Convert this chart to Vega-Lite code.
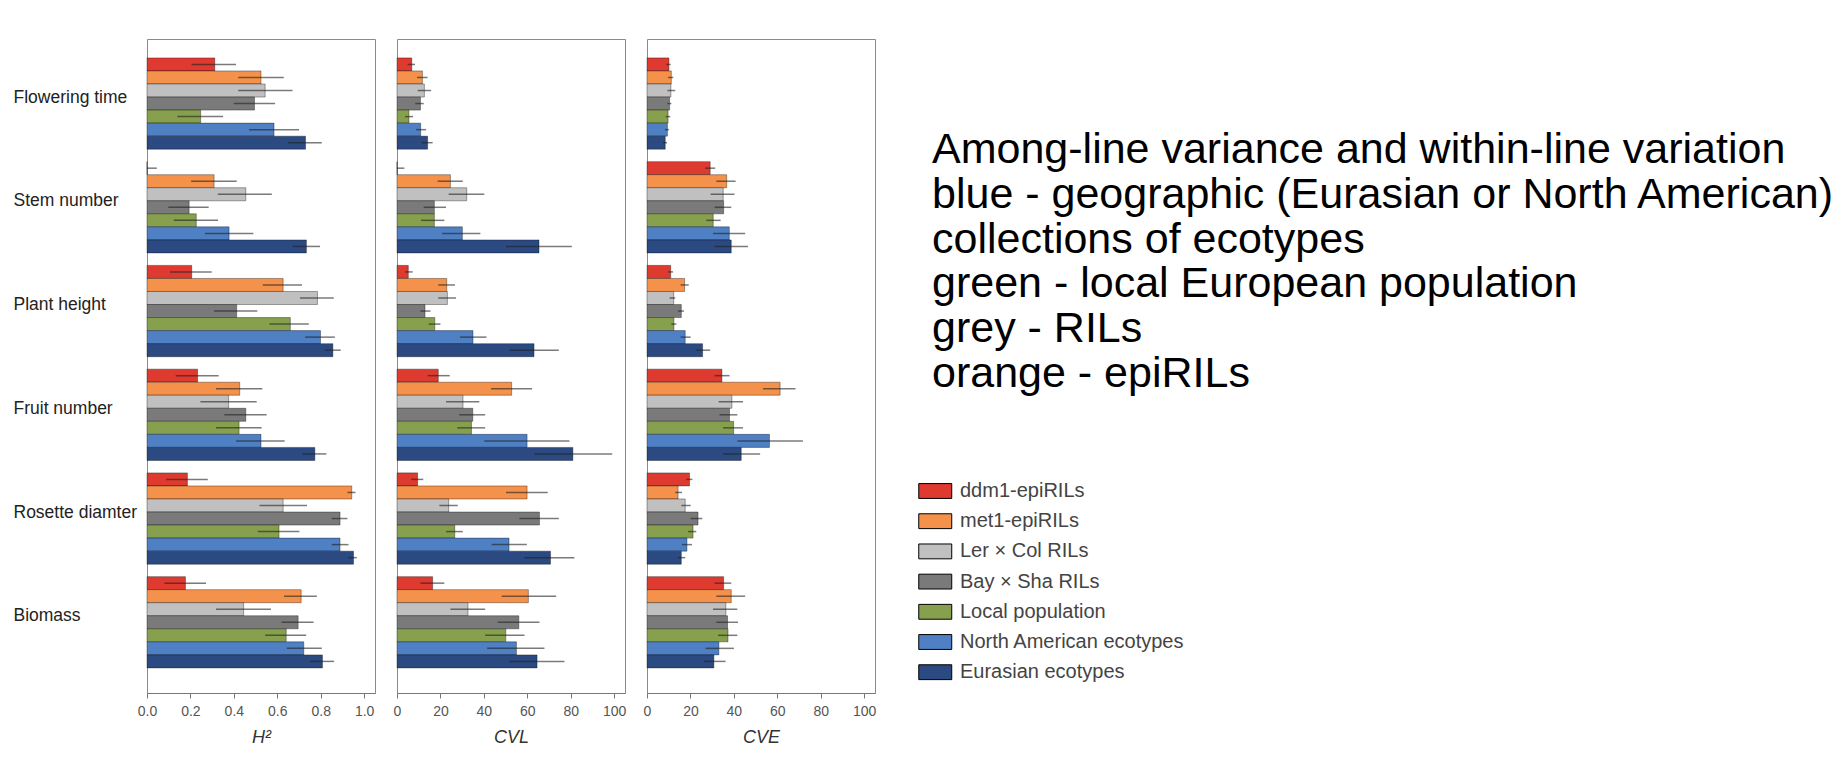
{
  "$schema": "https://vega.github.io/schema/vega-lite/v6.json",
  "padding": {"left": 12, "top": 38, "right": 2, "bottom": 2},
  "background": "white",
  "bounds": "flush",
  "spacing": 22,
  "datasets": {
    "d": [
      {"t":"Flowering time","g":"ddm1-epiRILs","m":"H2","v":0.312,"lo":0.205,"hi":0.41},
      {"t":"Flowering time","g":"met1-epiRILs","m":"H2","v":0.525,"lo":0.42,"hi":0.63},
      {"t":"Flowering time","g":"Ler × Col RILs","m":"H2","v":0.544,"lo":0.42,"hi":0.67},
      {"t":"Flowering time","g":"Bay × Sha RILs","m":"H2","v":0.495,"lo":0.4,"hi":0.59},
      {"t":"Flowering time","g":"Local population","m":"H2","v":0.247,"lo":0.14,"hi":0.35},
      {"t":"Flowering time","g":"North American ecotypes","m":"H2","v":0.585,"lo":0.47,"hi":0.7},
      {"t":"Flowering time","g":"Eurasian ecotypes","m":"H2","v":0.73,"lo":0.65,"hi":0.805},
      {"t":"Stem number","g":"ddm1-epiRILs","m":"H2","v":0,"lo":0,"hi":0.045},
      {"t":"Stem number","g":"met1-epiRILs","m":"H2","v":0.309,"lo":0.203,"hi":0.413},
      {"t":"Stem number","g":"Ler × Col RILs","m":"H2","v":0.455,"lo":0.326,"hi":0.575},
      {"t":"Stem number","g":"Bay × Sha RILs","m":"H2","v":0.194,"lo":0.098,"hi":0.284},
      {"t":"Stem number","g":"Local population","m":"H2","v":0.227,"lo":0.124,"hi":0.327},
      {"t":"Stem number","g":"North American ecotypes","m":"H2","v":0.378,"lo":0.267,"hi":0.49},
      {"t":"Stem number","g":"Eurasian ecotypes","m":"H2","v":0.734,"lo":0.671,"hi":0.797},
      {"t":"Plant height","g":"ddm1-epiRILs","m":"H2","v":0.206,"lo":0.106,"hi":0.298},
      {"t":"Plant height","g":"met1-epiRILs","m":"H2","v":0.627,"lo":0.533,"hi":0.714},
      {"t":"Plant height","g":"Ler × Col RILs","m":"H2","v":0.785,"lo":0.705,"hi":0.86},
      {"t":"Plant height","g":"Bay × Sha RILs","m":"H2","v":0.413,"lo":0.309,"hi":0.508},
      {"t":"Plant height","g":"Local population","m":"H2","v":0.66,"lo":0.564,"hi":0.745},
      {"t":"Plant height","g":"North American ecotypes","m":"H2","v":0.799,"lo":0.728,"hi":0.865},
      {"t":"Plant height","g":"Eurasian ecotypes","m":"H2","v":0.856,"lo":0.82,"hi":0.892},
      {"t":"Fruit number","g":"ddm1-epiRILs","m":"H2","v":0.233,"lo":0.132,"hi":0.33},
      {"t":"Fruit number","g":"met1-epiRILs","m":"H2","v":0.427,"lo":0.318,"hi":0.531},
      {"t":"Fruit number","g":"Ler × Col RILs","m":"H2","v":0.376,"lo":0.246,"hi":0.505},
      {"t":"Fruit number","g":"Bay × Sha RILs","m":"H2","v":0.455,"lo":0.356,"hi":0.551},
      {"t":"Fruit number","g":"Local population","m":"H2","v":0.424,"lo":0.318,"hi":0.528},
      {"t":"Fruit number","g":"North American ecotypes","m":"H2","v":0.525,"lo":0.41,"hi":0.634},
      {"t":"Fruit number","g":"Eurasian ecotypes","m":"H2","v":0.773,"lo":0.716,"hi":0.826},
      {"t":"Rosette diamter","g":"ddm1-epiRILs","m":"H2","v":0.186,"lo":0.088,"hi":0.28},
      {"t":"Rosette diamter","g":"met1-epiRILs","m":"H2","v":0.943,"lo":0.923,"hi":0.96},
      {"t":"Rosette diamter","g":"Ler × Col RILs","m":"H2","v":0.627,"lo":0.518,"hi":0.737},
      {"t":"Rosette diamter","g":"Bay × Sha RILs","m":"H2","v":0.889,"lo":0.851,"hi":0.923},
      {"t":"Rosette diamter","g":"Local population","m":"H2","v":0.608,"lo":0.51,"hi":0.702},
      {"t":"Rosette diamter","g":"North American ecotypes","m":"H2","v":0.889,"lo":0.851,"hi":0.928},
      {"t":"Rosette diamter","g":"Eurasian ecotypes","m":"H2","v":0.951,"lo":0.928,"hi":0.966},
      {"t":"Biomass","g":"ddm1-epiRILs","m":"H2","v":0.177,"lo":0.08,"hi":0.272},
      {"t":"Biomass","g":"met1-epiRILs","m":"H2","v":0.71,"lo":0.631,"hi":0.782},
      {"t":"Biomass","g":"Ler × Col RILs","m":"H2","v":0.445,"lo":0.318,"hi":0.571},
      {"t":"Biomass","g":"Bay × Sha RILs","m":"H2","v":0.696,"lo":0.62,"hi":0.767},
      {"t":"Biomass","g":"Local population","m":"H2","v":0.641,"lo":0.544,"hi":0.733},
      {"t":"Biomass","g":"North American ecotypes","m":"H2","v":0.722,"lo":0.644,"hi":0.805},
      {"t":"Biomass","g":"Eurasian ecotypes","m":"H2","v":0.808,"lo":0.751,"hi":0.862},

      {"t":"Flowering time","g":"ddm1-epiRILs","m":"CVL","v":6.8,"lo":4.9,"hi":8.3},
      {"t":"Flowering time","g":"met1-epiRILs","m":"CVL","v":11.7,"lo":9.2,"hi":14.1},
      {"t":"Flowering time","g":"Ler × Col RILs","m":"CVL","v":12.6,"lo":9.5,"hi":15.7},
      {"t":"Flowering time","g":"Bay × Sha RILs","m":"CVL","v":10.8,"lo":8.4,"hi":12.3},
      {"t":"Flowering time","g":"Local population","m":"CVL","v":5.5,"lo":3.7,"hi":7.4},
      {"t":"Flowering time","g":"North American ecotypes","m":"CVL","v":10.9,"lo":8.8,"hi":13.4},
      {"t":"Flowering time","g":"Eurasian ecotypes","m":"CVL","v":14.1,"lo":11.4,"hi":16.4},
      {"t":"Stem number","g":"ddm1-epiRILs","m":"CVL","v":0,"lo":0,"hi":3.4},
      {"t":"Stem number","g":"met1-epiRILs","m":"CVL","v":24.6,"lo":18.7,"hi":30.3},
      {"t":"Stem number","g":"Ler × Col RILs","m":"CVL","v":32.1,"lo":23.8,"hi":40.2},
      {"t":"Stem number","g":"Bay × Sha RILs","m":"CVL","v":17.2,"lo":12.3,"hi":22.6},
      {"t":"Stem number","g":"Local population","m":"CVL","v":17.2,"lo":11.1,"hi":21.8},
      {"t":"Stem number","g":"North American ecotypes","m":"CVL","v":30.1,"lo":20.7,"hi":38.4},
      {"t":"Stem number","g":"Eurasian ecotypes","m":"CVL","v":65.4,"lo":50.2,"hi":80.5},
      {"t":"Plant height","g":"ddm1-epiRILs","m":"CVL","v":5.2,"lo":3.7,"hi":7.2},
      {"t":"Plant height","g":"met1-epiRILs","m":"CVL","v":22.9,"lo":19,"hi":26.7},
      {"t":"Plant height","g":"Ler × Col RILs","m":"CVL","v":23.2,"lo":19,"hi":27.2},
      {"t":"Plant height","g":"Bay × Sha RILs","m":"CVL","v":12.9,"lo":10.8,"hi":15.4},
      {"t":"Plant height","g":"Local population","m":"CVL","v":17.4,"lo":14.6,"hi":20},
      {"t":"Plant height","g":"North American ecotypes","m":"CVL","v":35,"lo":29,"hi":41.2},
      {"t":"Plant height","g":"Eurasian ecotypes","m":"CVL","v":63.1,"lo":51.8,"hi":74.5},
      {"t":"Fruit number","g":"ddm1-epiRILs","m":"CVL","v":19,"lo":14.1,"hi":24.3},
      {"t":"Fruit number","g":"met1-epiRILs","m":"CVL","v":52.8,"lo":43.3,"hi":62.2},
      {"t":"Fruit number","g":"Ler × Col RILs","m":"CVL","v":30.4,"lo":22.6,"hi":37.9},
      {"t":"Fruit number","g":"Bay × Sha RILs","m":"CVL","v":34.9,"lo":28.7,"hi":40.6},
      {"t":"Fruit number","g":"Local population","m":"CVL","v":34.3,"lo":27.8,"hi":40.6},
      {"t":"Fruit number","g":"North American ecotypes","m":"CVL","v":59.9,"lo":40.2,"hi":79.4},
      {"t":"Fruit number","g":"Eurasian ecotypes","m":"CVL","v":81,"lo":63.3,"hi":99.1},
      {"t":"Rosette diamter","g":"ddm1-epiRILs","m":"CVL","v":9.5,"lo":6.5,"hi":12.1},
      {"t":"Rosette diamter","g":"met1-epiRILs","m":"CVL","v":59.9,"lo":50.2,"hi":69.4},
      {"t":"Rosette diamter","g":"Ler × Col RILs","m":"CVL","v":23.8,"lo":19.5,"hi":28},
      {"t":"Rosette diamter","g":"Bay × Sha RILs","m":"CVL","v":65.6,"lo":56.4,"hi":74.5},
      {"t":"Rosette diamter","g":"Local population","m":"CVL","v":26.6,"lo":22.6,"hi":30.3},
      {"t":"Rosette diamter","g":"North American ecotypes","m":"CVL","v":51.6,"lo":43.6,"hi":59.8},
      {"t":"Rosette diamter","g":"Eurasian ecotypes","m":"CVL","v":70.7,"lo":58.7,"hi":81.7},
      {"t":"Biomass","g":"ddm1-epiRILs","m":"CVL","v":16.4,"lo":10.8,"hi":21.8},
      {"t":"Biomass","g":"met1-epiRILs","m":"CVL","v":60.5,"lo":48.2,"hi":73.3},
      {"t":"Biomass","g":"Ler × Col RILs","m":"CVL","v":32.7,"lo":24.6,"hi":40.6},
      {"t":"Biomass","g":"Bay × Sha RILs","m":"CVL","v":56.1,"lo":46.4,"hi":65.6},
      {"t":"Biomass","g":"Local population","m":"CVL","v":50.1,"lo":40.6,"hi":58.7},
      {"t":"Biomass","g":"North American ecotypes","m":"CVL","v":55,"lo":41.5,"hi":67.9},
      {"t":"Biomass","g":"Eurasian ecotypes","m":"CVL","v":64.5,"lo":51.8,"hi":77.1},

      {"t":"Flowering time","g":"ddm1-epiRILs","m":"CVE","v":10.1,"lo":8.9,"hi":10.9},
      {"t":"Flowering time","g":"met1-epiRILs","m":"CVE","v":11.2,"lo":9.7,"hi":12.1},
      {"t":"Flowering time","g":"Ler × Col RILs","m":"CVE","v":11,"lo":9.4,"hi":13},
      {"t":"Flowering time","g":"Bay × Sha RILs","m":"CVE","v":10.4,"lo":9.4,"hi":11.2},
      {"t":"Flowering time","g":"Local population","m":"CVE","v":9.7,"lo":8.6,"hi":10.7},
      {"t":"Flowering time","g":"North American ecotypes","m":"CVE","v":9.4,"lo":8.3,"hi":10.1},
      {"t":"Flowering time","g":"Eurasian ecotypes","m":"CVE","v":8.4,"lo":7.4,"hi":9.2},
      {"t":"Stem number","g":"ddm1-epiRILs","m":"CVE","v":29.1,"lo":26.8,"hi":31.4},
      {"t":"Stem number","g":"met1-epiRILs","m":"CVE","v":36.7,"lo":31.9,"hi":40.8},
      {"t":"Stem number","g":"Ler × Col RILs","m":"CVE","v":35.1,"lo":29.3,"hi":40.3},
      {"t":"Stem number","g":"Bay × Sha RILs","m":"CVE","v":35.3,"lo":31.1,"hi":38.8},
      {"t":"Stem number","g":"Local population","m":"CVE","v":30.5,"lo":27.3,"hi":33.9},
      {"t":"Stem number","g":"North American ecotypes","m":"CVE","v":37.9,"lo":30.4,"hi":45.2},
      {"t":"Stem number","g":"Eurasian ecotypes","m":"CVE","v":38.8,"lo":31.1,"hi":46.5},
      {"t":"Plant height","g":"ddm1-epiRILs","m":"CVE","v":10.9,"lo":9.7,"hi":12},
      {"t":"Plant height","g":"met1-epiRILs","m":"CVE","v":17.3,"lo":15.5,"hi":19.2},
      {"t":"Plant height","g":"Ler × Col RILs","m":"CVE","v":12.3,"lo":10.4,"hi":13},
      {"t":"Plant height","g":"Bay × Sha RILs","m":"CVE","v":15.8,"lo":14.3,"hi":17},
      {"t":"Plant height","g":"Local population","m":"CVE","v":12.4,"lo":11.2,"hi":13.5},
      {"t":"Plant height","g":"North American ecotypes","m":"CVE","v":17.6,"lo":15.5,"hi":20.1},
      {"t":"Plant height","g":"Eurasian ecotypes","m":"CVE","v":25.6,"lo":22.7,"hi":29.1},
      {"t":"Fruit number","g":"ddm1-epiRILs","m":"CVE","v":34.5,"lo":31.1,"hi":38},
      {"t":"Fruit number","g":"met1-epiRILs","m":"CVE","v":61.3,"lo":53.4,"hi":68.4},
      {"t":"Fruit number","g":"Ler × Col RILs","m":"CVE","v":39.1,"lo":33,"hi":44.2},
      {"t":"Fruit number","g":"Bay × Sha RILs","m":"CVE","v":38,"lo":33.4,"hi":41.6},
      {"t":"Fruit number","g":"Local population","m":"CVE","v":39.9,"lo":35,"hi":44.2},
      {"t":"Fruit number","g":"North American ecotypes","m":"CVE","v":56.4,"lo":41.6,"hi":71.8},
      {"t":"Fruit number","g":"Eurasian ecotypes","m":"CVE","v":43.4,"lo":35,"hi":52.1},
      {"t":"Rosette diamter","g":"ddm1-epiRILs","m":"CVE","v":19.6,"lo":18.1,"hi":20.9},
      {"t":"Rosette diamter","g":"met1-epiRILs","m":"CVE","v":14.3,"lo":13,"hi":16.1},
      {"t":"Rosette diamter","g":"Ler × Col RILs","m":"CVE","v":17.6,"lo":15.8,"hi":20.1},
      {"t":"Rosette diamter","g":"Bay × Sha RILs","m":"CVE","v":23.5,"lo":20.1,"hi":25.5},
      {"t":"Rosette diamter","g":"Local population","m":"CVE","v":21.2,"lo":18.9,"hi":22.7},
      {"t":"Rosette diamter","g":"North American ecotypes","m":"CVE","v":18.4,"lo":16.1,"hi":20.7},
      {"t":"Rosette diamter","g":"Eurasian ecotypes","m":"CVE","v":15.8,"lo":14.3,"hi":17.6},
      {"t":"Biomass","g":"ddm1-epiRILs","m":"CVE","v":35.3,"lo":31.1,"hi":38.8},
      {"t":"Biomass","g":"met1-epiRILs","m":"CVE","v":38.8,"lo":31.9,"hi":45.2},
      {"t":"Biomass","g":"Ler × Col RILs","m":"CVE","v":36.3,"lo":30.4,"hi":41.6},
      {"t":"Biomass","g":"Bay × Sha RILs","m":"CVE","v":37.1,"lo":31.9,"hi":41.9},
      {"t":"Biomass","g":"Local population","m":"CVE","v":37.3,"lo":32.7,"hi":41.6},
      {"t":"Biomass","g":"North American ecotypes","m":"CVE","v":33.1,"lo":27,"hi":40},
      {"t":"Biomass","g":"Eurasian ecotypes","m":"CVE","v":30.8,"lo":26.2,"hi":36.2}
    ],
    "notes": [
      {"i":0,"c":0,"s":"Among-line variance and within-line variation"},
      {"i":1,"c":0,"s":"blue - geographic (Eurasian or North American)"},
      {"i":2,"c":0,"s":"collections of ecotypes"},
      {"i":3,"c":0,"s":"green - local European population"},
      {"i":4,"c":0,"s":"grey - RILs"},
      {"i":5,"c":0,"s":"orange - epiRILs"}
    ]
  },
  "hconcat": [
    {
      "width": 228, "height": 654,
      "data": {"name": "d"},
      "transform": [{"filter": "datum.m === 'H2'"}],
      "encoding": {
        "y": {"field": "t", "type": "nominal",
              "sort": ["Flowering time","Stem number","Plant height","Fruit number","Rosette diamter","Biomass"],
              "scale": {"paddingInner": 0.12, "paddingOuter": 0.212, "align": 0.43},
              "axis": {"title": null, "domain": false, "ticks": false, "tickSize": 0, "labelAlign": "left", "labelBaseline": "middle", "labelPadding": 134, "labelFontSize": 17.5, "labelColor": "#222", "labelOffset": -6, "labelLimit": 200}},
        "yOffset": {"field": "g", "type": "nominal",
              "sort": ["ddm1-epiRILs","met1-epiRILs","Ler × Col RILs","Bay × Sha RILs","Local population","North American ecotypes","Eurasian ecotypes"],
              "scale": {"paddingInner": 0, "paddingOuter": 0}}
      },
      "layer": [
        {
          "mark": {"type": "bar", "stroke": "#000", "strokeOpacity": 0.35, "strokeWidth": 1, "opacity": 1},
          "encoding": {
            "x": {"field": "v", "type": "quantitative", "scale": {"domain": [0, 1.05], "nice": false},
                  "axis": {"title": "H²", "values": [0, 0.2, 0.4, 0.6, 0.8, 1.0], "format": ".1f"}},
            "color": {"field": "g", "type": "nominal",
              "sort": ["ddm1-epiRILs","met1-epiRILs","Ler × Col RILs","Bay × Sha RILs","Local population","North American ecotypes","Eurasian ecotypes"],
              "scale": {"domain": ["ddm1-epiRILs","met1-epiRILs","Ler × Col RILs","Bay × Sha RILs","Local population","North American ecotypes","Eurasian ecotypes"],
                        "range": ["#df3a2f","#f4924b","#c0c0c0","#7a7a7a","#86a04d","#4f80c4","#2b4a82"]},
              "legend": {"orient": "none", "legendX": 770, "legendY": 442, "title": null,
                         "symbolType": "M-1,-0.9H3V0.9H-1Z", "symbolSize": 272,
                         "symbolStrokeColor": "#555", "symbolStrokeWidth": 1, "symbolOpacity": 1,
                         "labelFontSize": 20, "labelColor": "#444", "labelOffset": 23, "rowPadding": 10.2, "labelLimit": 300}}
          }
        },
        {
          "mark": {"type": "rule", "color": "#222", "opacity": 0.6, "strokeWidth": 1.5},
          "encoding": {
            "x": {"field": "lo", "type": "quantitative"},
            "x2": {"field": "hi"}
          }
        }
      ]
    },
    {
      "width": 228, "height": 654,
      "data": {"name": "d"},
      "transform": [{"filter": "datum.m === 'CVL'"}],
      "encoding": {
        "y": {"field": "t", "type": "nominal",
              "sort": ["Flowering time","Stem number","Plant height","Fruit number","Rosette diamter","Biomass"],
              "scale": {"paddingInner": 0.12, "paddingOuter": 0.212, "align": 0.43},
              "axis": null},
        "yOffset": {"field": "g", "type": "nominal",
              "sort": ["ddm1-epiRILs","met1-epiRILs","Ler × Col RILs","Bay × Sha RILs","Local population","North American ecotypes","Eurasian ecotypes"],
              "scale": {"paddingInner": 0, "paddingOuter": 0}}
      },
      "layer": [
        {
          "mark": {"type": "bar", "stroke": "#000", "strokeOpacity": 0.35, "strokeWidth": 1, "opacity": 1},
          "encoding": {
            "x": {"field": "v", "type": "quantitative", "scale": {"domain": [0, 105], "nice": false},
                  "axis": {"title": "CVL", "values": [0, 20, 40, 60, 80, 100]}},
            "color": {"field": "g", "type": "nominal"}
          }
        },
        {
          "mark": {"type": "rule", "color": "#222", "opacity": 0.6, "strokeWidth": 1.5},
          "encoding": {
            "x": {"field": "lo", "type": "quantitative"},
            "x2": {"field": "hi"}
          }
        }
      ]
    },
    {
      "width": 228, "height": 654,
      "data": {"name": "d"},
      "transform": [{"filter": "datum.m === 'CVE'"}],
      "encoding": {
        "y": {"field": "t", "type": "nominal",
              "sort": ["Flowering time","Stem number","Plant height","Fruit number","Rosette diamter","Biomass"],
              "scale": {"paddingInner": 0.12, "paddingOuter": 0.212, "align": 0.43},
              "axis": null},
        "yOffset": {"field": "g", "type": "nominal",
              "sort": ["ddm1-epiRILs","met1-epiRILs","Ler × Col RILs","Bay × Sha RILs","Local population","North American ecotypes","Eurasian ecotypes"],
              "scale": {"paddingInner": 0, "paddingOuter": 0}}
      },
      "layer": [
        {
          "mark": {"type": "bar", "stroke": "#000", "strokeOpacity": 0.35, "strokeWidth": 1, "opacity": 1},
          "encoding": {
            "x": {"field": "v", "type": "quantitative", "scale": {"domain": [0, 105], "nice": false},
                  "axis": {"title": "CVE", "values": [0, 20, 40, 60, 80, 100]}},
            "color": {"field": "g", "type": "nominal"}
          }
        },
        {
          "mark": {"type": "rule", "color": "#222", "opacity": 0.6, "strokeWidth": 1.5},
          "encoding": {
            "x": {"field": "lo", "type": "quantitative"},
            "x2": {"field": "hi"}
          }
        }
      ]
    },
    {
      "width": 900, "height": 654,
      "view": {"stroke": null},
      "data": {"name": "notes"},
      "mark": {"type": "text", "align": "left", "baseline": "middle", "fontSize": 43, "font": "Liberation Sans", "color": "#000"},
      "encoding": {
        "x": {"field": "c", "type": "quantitative", "scale": {"domain": [-0.0389, 0.9611], "nice": false, "zero": false}, "axis": null},
        "y": {"field": "i", "type": "quantitative", "scale": {"domain": [-2.478, 12.12], "reverse": true, "nice": false, "zero": false}, "axis": null},
        "text": {"field": "s", "type": "nominal"}
      }
    }
  ],
  "resolve": {"scale": {"x": "independent", "y": "independent"}},
  "config": {
    "font": "Liberation Sans",
    "view": {"stroke": "#8a8a8a", "strokeWidth": 1},
    "axis": {"grid": false},
    "axisX": {"domainColor": "#777", "tickColor": "#777", "tickSize": 5, "labelFontSize": 14, "labelColor": "#555", "labelPadding": 6, "titleFontSize": 18, "titleFontStyle": "italic", "titleFontWeight": "normal", "titleColor": "#333", "titlePadding": 10, "labelFlush": false}
  }
}
